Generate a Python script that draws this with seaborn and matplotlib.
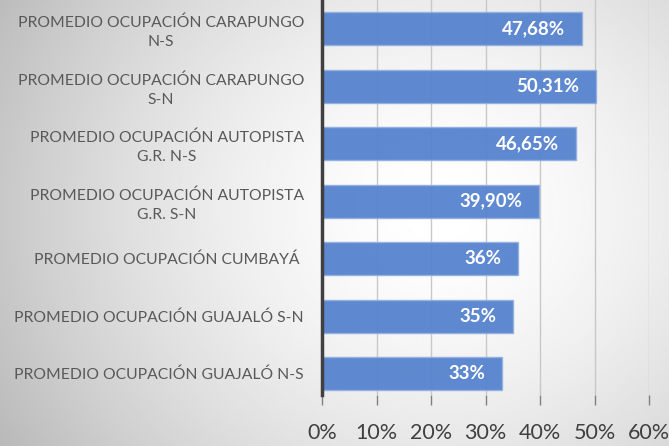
import numpy as np
import pandas as pd
import matplotlib
matplotlib.use("Agg")
import matplotlib.pyplot as plt
import seaborn as sns

# data
categories = [
    "PROMEDIO OCUPACIÓN CARAPUNGO\nN-S",
    "PROMEDIO OCUPACIÓN CARAPUNGO\nS-N",
    "PROMEDIO OCUPACIÓN AUTOPISTA\nG.R. N-S",
    "PROMEDIO OCUPACIÓN AUTOPISTA\nG.R. S-N",
    "PROMEDIO OCUPACIÓN CUMBAYÁ ",
    "PROMEDIO OCUPACIÓN GUAJALÓ S-N",
    "PROMEDIO OCUPACIÓN GUAJALÓ N-S",
]
values = [0.4768, 0.5031, 0.4665, 0.3990, 0.36, 0.35, 0.33]
value_labels = ["47,68%", "50,31%", "46,65%", "39,90%", "36%", "35%", "33%"]
x_ticks = [0, 0.1, 0.2, 0.3, 0.4, 0.5, 0.6]
x_tick_labels = ["0%", "10%", "20%", "30%", "40%", "50%", "60%"]

df = pd.DataFrame({"Categoria": categories, "Ocupacion": values})

sns.set_style("white")
plt.rcParams["font.family"] = ["Lato", "DejaVu Sans"]

fig = plt.figure(figsize=(6.69, 4.46), dpi=100)

# radial gray-white background
bg = fig.add_axes([0, 0, 1, 1], zorder=-10)
gx, gy = np.meshgrid(np.linspace(0, 669, 335), np.linspace(0, 446, 223))
r = np.sqrt(((gx - 440) / 420) ** 2 + ((gy - 210) / 380) ** 2)
shade = 1 - 0.2 * np.clip(r, 0, 1.2) ** 1.6
bg.imshow(shade, cmap="gray", vmin=0, vmax=1, extent=[0, 669, 446, 0], aspect="auto")
bg.axis("off")

ax = fig.add_axes([322 / 669, 51 / 446, 327 / 669, 395 / 446])
ax.set_facecolor("none")

sns.barplot(data=df, x="Ocupacion", y="Categoria", orient="h", ax=ax,
            color="#5683ce", saturation=1, alpha=0.95, width=0.575,
            edgecolor="#92b0e0", linewidth=1, zorder=3)

ax.set_xlim(0, 0.6)
ax.set_ylim(6.37, -0.5)
ax.set_xticks(x_ticks)
ax.set_xticklabels(x_tick_labels, fontsize=15.5, color="#404040")
ax.set_xlabel("")
ax.set_ylabel("")
ax.grid(axis="x", color="#c8c8c8", linewidth=1, zorder=0)
ax.tick_params(axis="x", length=7, width=1, color="#808080", pad=13, direction="out", bottom=True)
ax.tick_params(axis="y", length=0, pad=13, labelsize=11.3, labelcolor="#595959")
for lbl in ax.get_yticklabels():
    lbl.set_multialignment("center")
    lbl.set_linespacing(1.45)

for s in ["top", "right", "bottom"]:
    ax.spines[s].set_visible(False)
ax.spines["left"].set_color("#404040")
ax.spines["left"].set_linewidth(2.5)
ax.spines["left"].set_zorder(5)

# value labels inside the bar ends
for i, (v, t) in enumerate(zip(values, value_labels)):
    ax.annotate(t, (v, i), xytext=(-12, 0), textcoords="offset points",
                ha="right", va="center", color="white", fontsize=13.5,
                fontweight="bold", zorder=6)

fig.savefig("out.png", dpi=100)
